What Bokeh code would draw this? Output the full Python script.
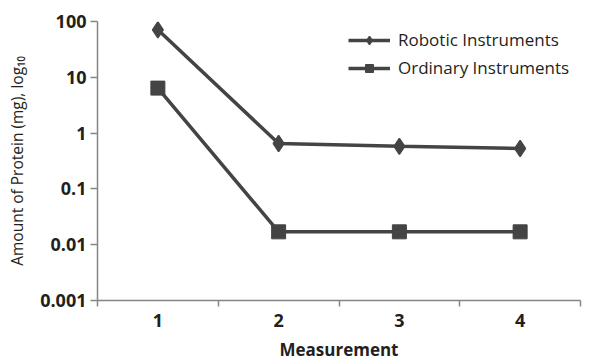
from bokeh.plotting import figure
from bokeh.models import FixedTicker, CustomJSTickFormatter, Legend, LegendItem, Range1d
from bokeh.embed import file_html
from bokeh.resources import INLINE

measurements = [1, 2, 3, 4]
tick_labels = ["1", "2", "3", "4"]
robotic = [71, 0.65, 0.58, 0.53]
ordinary = [6.4, 0.017, 0.017, 0.017]
y_ticks = [0.001, 0.01, 0.1, 1, 10, 100]

FONT = "Open Sans"
DARK = "#444444"
AXIS = "#858585"
TEXT = "#231f20"

p = figure(width=598, height=363, y_axis_type="log", output_backend="svg",
           toolbar_location=None, x_range=Range1d(0.5, 4.5), y_range=Range1d(0.001, 100),
           min_border_left=97, min_border_top=21, min_border_right=18, min_border_bottom=60)
p.outline_line_color = None
p.xgrid.visible = False
p.ygrid.visible = False

r1 = p.line(measurements, robotic, line_color=DARK, line_width=3.5)
m1 = p.scatter(measurements, robotic, marker="diamond", size=16,
               fill_color=DARK, line_color=DARK, line_width=1.5)
r2 = p.line(measurements, ordinary, line_color=DARK, line_width=3.5)
m2 = p.scatter(measurements, ordinary, marker="square", size=14, fill_color=DARK, line_color=DARK)

xa = p.xaxis[0]
xa.ticker = FixedTicker(ticks=measurements, minor_ticks=[0.5, 1.5, 2.5, 3.5, 4.5])
xa.major_label_overrides = {m: t for m, t in zip(measurements, tick_labels)}
xa.major_tick_line_color = None
xa.major_tick_out = 0
xa.major_tick_in = 0
xa.minor_tick_line_color = AXIS
xa.minor_tick_line_width = 1.5
xa.minor_tick_out = 6
xa.minor_tick_in = 0
xa.axis_line_color = AXIS
xa.axis_line_width = 1.5
xa.axis_label = "Measurement"
xa.axis_label_text_font = FONT
xa.axis_label_text_font_style = "bold"
xa.axis_label_text_font_size = "17px"
xa.axis_label_text_color = TEXT
xa.major_label_text_font = FONT
xa.major_label_text_font_style = "bold"
xa.major_label_text_font_size = "18px"
xa.major_label_text_color = TEXT
xa.major_label_standoff = 7
xa.axis_label_standoff = 8

ya = p.yaxis[0]
ya.ticker = FixedTicker(ticks=y_ticks, minor_ticks=[])
ya.formatter = CustomJSTickFormatter(code="""
    if (tick >= 1) return tick.toFixed(0);
    return tick.toFixed(Math.round(-Math.log10(tick)));
""")
ya.major_tick_line_color = AXIS
ya.major_tick_line_width = 1.5
ya.major_tick_out = 7
ya.major_tick_in = 0
ya.axis_line_color = AXIS
ya.axis_line_width = 1.5
ya.axis_label = "Amount of Protein (mg), log\u2081\u2080"
ya.axis_label_text_font = FONT
ya.axis_label_text_font_style = "normal"
ya.axis_label_text_font_size = "15.5px"
ya.axis_label_text_color = TEXT
ya.major_label_text_font = FONT
ya.major_label_text_font_style = "bold"
ya.major_label_text_font_size = "18px"
ya.major_label_text_color = TEXT
ya.major_label_standoff = 4
ya.axis_label_standoff = 9

legend = Legend(items=[LegendItem(label="Robotic Instruments", renderers=[r1, m1]),
                       LegendItem(label="Ordinary Instruments", renderers=[r2, m2])],
                location=(251, 221), border_line_color=None, background_fill_alpha=0,
                label_text_font=FONT, label_text_font_size="17px", label_text_color=TEXT,
                label_text_font_style="normal",
                glyph_width=42, glyph_height=20, label_height=20, spacing=5, margin=0, padding=0,
                label_standoff=8)
p.add_layout(legend)

open("out.html", "w").write(file_html(p, INLINE))
